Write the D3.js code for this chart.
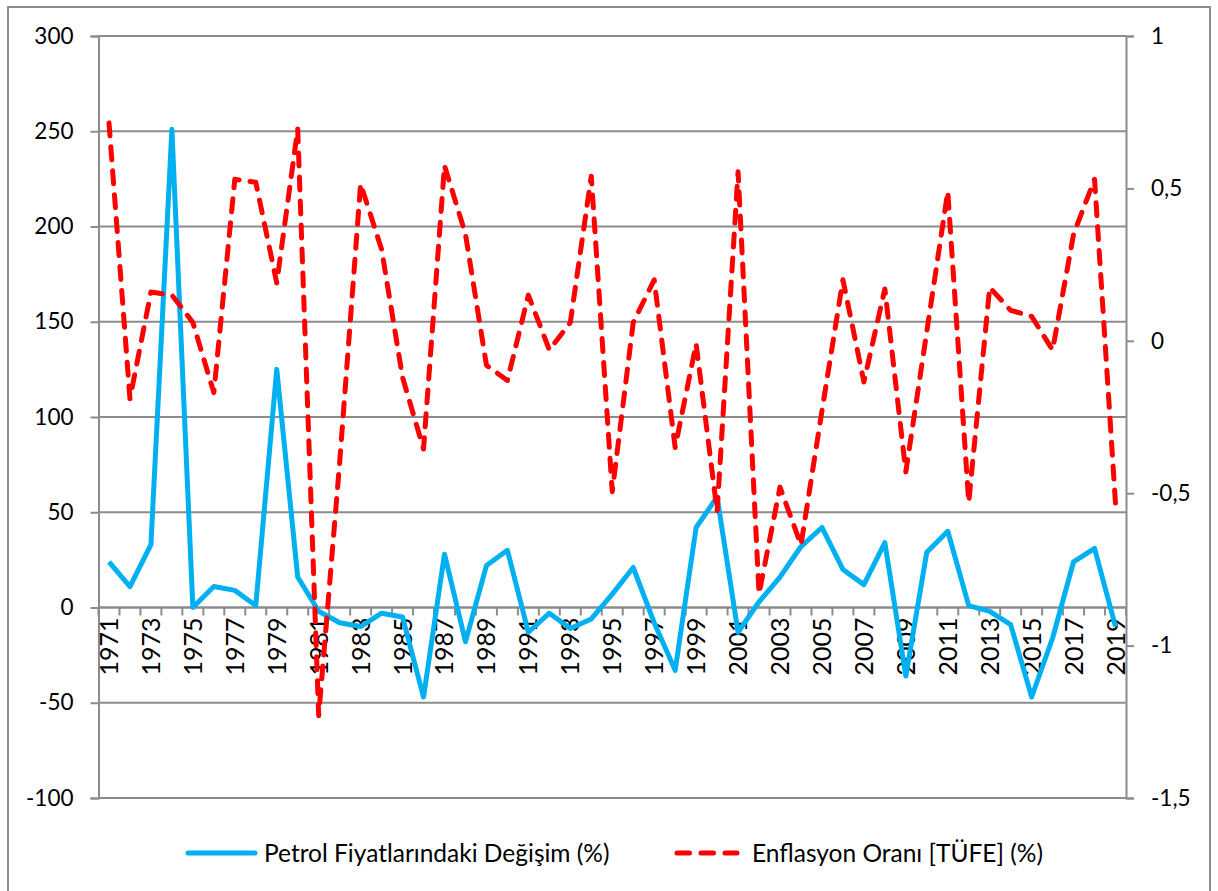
<!DOCTYPE html>
<meta charset="utf-8">
<style>
body { margin: 0; background: #fff; }
.chart text { font-family: Lato, "Liberation Sans", sans-serif; fill: #000; }
.grid line { stroke: #8c8c8c; stroke-width: 2; }
.axis path, .axis line { stroke: #8c8c8c; stroke-width: 2; }
</style>
<svg class="chart" width="1218" height="891"></svg>
<script src="https://d3js.org/d3.v7.min.js"></script>
<script>

var years = d3.range(1971, 2020);

// Petrol Fiyatlarındaki Değişim (%), left axis
var petrol = [24, 11, 33, 251, 0, 11, 9, 1, 125, 16,
              -2, -8, -10, -3, -5, -47, 28, -18, 22, 30,
              -13, -3, -11, -6, 7, 21, -8, -33, 42, 58,
              -13, 3, 16, 32, 42, 20, 12, 34, -36, 29,
              40, 1, -2, -9, -47, -16, 24, 31, -10];

// Enflasyon Oranı [TÜFE] (%), right axis
var inflation = [0.715, -0.19, 0.16, 0.15, 0.06, -0.17, 0.53, 0.52, 0.19, 0.695,
                 -1.23, -0.40, 0.515, 0.30, -0.12, -0.355, 0.575, 0.35, -0.08, -0.13,
                 0.15, -0.03, 0.06, 0.54, -0.495, 0.06, 0.20, -0.35, -0.01, -0.56,
                 0.555, -0.83, -0.48, -0.67, -0.23, 0.20, -0.135, 0.17, -0.43, 0.03,
                 0.49, -0.53, 0.175, 0.10, 0.08, -0.03, 0.35, 0.53, -0.535];

var leftTicks = [-100, -50, 0, 50, 100, 150, 200, 250, 300];
var rightTicks = [-1.5, -1, -0.5, 0, 0.5, 1];

var plotL = 98.5, plotR = 1126, plotT = 36, plotB = 798;

var svg = d3.select(".chart");

// outer frame
svg.append("rect")
    .attr("x", 8).attr("y", 7)
    .attr("width", 1202).attr("height", 900)
    .attr("fill", "none")
    .attr("stroke", "#8c8c8c")
    .attr("stroke-width", 2);

var x = d3.scaleBand()
    .domain(years)
    .range([plotL, plotR]);

var yL = d3.scaleLinear().domain([-100, 300]).range([plotB, plotT]);
var yR = d3.scaleLinear().domain([-1.5, 1]).range([plotB, plotT]);

// horizontal gridlines
svg.append("g").attr("class", "grid")
  .selectAll("line")
  .data(leftTicks)
  .enter().append("line")
    .attr("x1", plotL).attr("x2", plotR)
    .attr("y1", function(d) { return yL(d); })
    .attr("y2", function(d) { return yL(d); });

var fmt = function(d) { return String(d).replace(".", ","); };

// left axis
var gL = svg.append("g").attr("class", "axis")
    .attr("transform", "translate(" + plotL + ",0)")
    .call(d3.axisLeft(yL).tickValues(leftTicks).tickSizeOuter(0).tickSize(8).tickPadding(17).tickFormat(fmt));
gL.selectAll("text").style("font-size", "22.5px");

// right axis
var gR = svg.append("g").attr("class", "axis")
    .attr("transform", "translate(" + plotR + ",0)")
    .call(d3.axisRight(yR).tickValues(rightTicks).tickSizeOuter(0).tickSize(8).tickPadding(17).tickFormat(fmt));
gR.selectAll("text").style("font-size", "22.5px");

// category axis on zero line
var gX = svg.append("g").attr("class", "axis")
    .attr("transform", "translate(0," + yL(0) + ")");
gX.append("line").attr("x1", plotL).attr("x2", plotR);
gX.selectAll(".tk")
    .data(years.concat([2020]))
  .enter().append("line")
    .attr("class", "tk")
    .attr("x1", function(d) { return d === 2020 ? plotR : x(d); })
    .attr("x2", function(d) { return d === 2020 ? plotR : x(d); })
    .attr("y1", 0).attr("y2", 8);
gX.selectAll("text")
    .data(years.filter(function(d) { return (d - 1971) % 2 === 0; }))
  .enter().append("text")
    .attr("transform", function(d) { return "translate(" + (x(d) + x.bandwidth() / 2) + ",10) rotate(-90)"; })
    .attr("dy", "0.36em")
    .attr("text-anchor", "end")
    .style("font-size", "25px")
    .text(function(d) { return d; });

var cx = function(d, i) { return x(years[i]) + x.bandwidth() / 2; };

svg.append("path")
    .datum(petrol)
    .attr("fill", "none")
    .attr("stroke", "#00b0f0")
    .attr("stroke-width", 5)
    .attr("stroke-linejoin", "round")
    .attr("d", d3.line().x(cx).y(function(d) { return yL(d); }));

svg.append("path")
    .datum(inflation)
    .attr("fill", "none")
    .attr("stroke", "#ff0000")
    .attr("stroke-width", 5)
    .attr("stroke-linecap", "round")
    .attr("stroke-linejoin", "round")
    .attr("stroke-dasharray", "13,11")
    .attr("d", d3.line().x(cx).y(function(d) { return yR(d); }));

// legend
var leg = svg.append("g").attr("transform", "translate(0,853)");
leg.append("line")
    .attr("x1", 188).attr("x2", 255)
    .attr("stroke", "#00b0f0").attr("stroke-width", 5).attr("stroke-linecap", "round");
leg.append("text").attr("x", 264).attr("dy", "0.35em").style("font-size", "24.5px")
    .text("Petrol Fiyatlarındaki Değişim (%)");
leg.append("line")
    .attr("x1", 677).attr("x2", 737)
    .attr("stroke", "#ff0000").attr("stroke-width", 5).attr("stroke-linecap", "round")
    .attr("stroke-dasharray", "12.5,11.5");
leg.append("text").attr("x", 752).attr("dy", "0.35em").style("font-size", "24.5px")
    .text("Enflasyon Oranı [TÜFE] (%)");

</script>
